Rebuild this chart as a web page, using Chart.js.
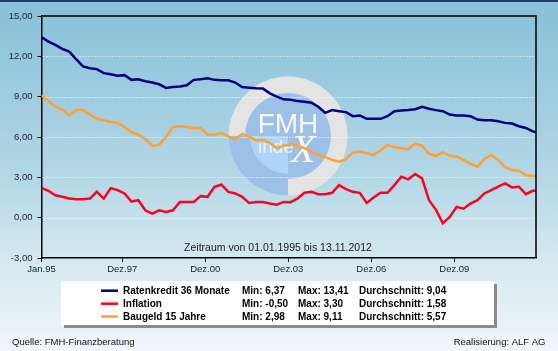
<!DOCTYPE html>
<html><head><meta charset="utf-8">
<script src="https://cdn.jsdelivr.net/npm/chart.js@4.4.0/dist/chart.umd.min.js"></script>
<style>html,body{margin:0;padding:0;overflow:hidden;background:#fff}#wrap{width:558px;height:351px;position:relative}</style>
</head><body><div id="wrap"><canvas id="c" width="558" height="351"></canvas></div>
<script>
// month index since Jan 1995
const months = [0,3,6,9,12,15,18,21,24,27,30,33,36,39,42,45,48,51,54,
  57,60,63,66,69,72,75,78,81,84,87,90,93,96,99,102,105,108,
  111,114,117,120,123,126,129,132,135,138,141,144,147,150,153,156,159,162,
  165,168,171,174,177,180,183,186,189,192,195,198,201,204,207,210,213,214.4];
const ratenkredit = [13.43,13.1,12.85,12.55,12.35,11.8,11.25,11.12,11.05,10.75,10.67,10.55,10.6,10.25,10.3,10.15,10.05,9.92,9.65,
  9.72,9.75,9.85,10.25,10.3,10.37,10.25,10.22,10.22,10.05,9.72,9.67,9.62,9.6,9.25,9.0,8.8,8.77,
  8.67,8.62,8.55,8.25,7.8,8.0,7.92,7.85,7.55,7.6,7.35,7.35,7.35,7.55,7.92,7.97,8.0,8.07,
  8.25,8.1,8.0,7.92,7.67,7.6,7.6,7.55,7.3,7.25,7.25,7.17,7.05,7.0,6.8,6.67,6.42,6.37];
const inflation = [2.22,2.0,1.67,1.55,1.42,1.37,1.37,1.42,1.92,1.42,2.2,2.05,1.8,1.2,1.3,0.55,0.3,0.55,0.42,
  0.55,1.17,1.17,1.17,1.6,1.55,2.3,2.45,1.92,1.8,1.55,1.1,1.17,1.17,1.05,0.97,1.17,1.15,
  1.42,1.85,1.92,1.75,1.75,1.85,2.42,2.12,1.92,1.85,1.1,1.5,1.85,1.85,2.42,3.05,2.85,3.25,
  2.92,1.3,0.6,-0.42,0.05,0.8,0.67,1.05,1.3,1.8,2.05,2.3,2.55,2.25,2.3,1.75,2.0,2.0];
const baugeld = [9.1,8.67,8.25,8.05,7.6,8.0,8.0,7.67,7.35,7.25,7.12,7.05,6.75,6.35,6.17,5.85,5.35,5.42,6.0,
  6.75,6.8,6.75,6.67,6.67,6.17,6.17,6.3,6.05,5.85,6.22,6.05,5.75,5.8,5.55,5.17,5.35,5.5,
  5.35,5.17,4.92,4.67,4.5,4.3,4.17,4.35,4.85,4.92,4.8,4.67,5.0,5.42,5.25,5.17,5.1,5.5,
  5.35,4.75,4.6,4.85,4.6,4.55,4.3,4.0,3.8,4.35,4.67,4.3,3.75,3.55,3.5,3.17,3.1,3.1];
const tickMonths = [0,35,71,107,143,179];
const tickLabels = ['Jan.95','Dez.97','Dez.00','Dez.03','Dez.06','Dez.09'];
const seriesNames = ['Ratenkredit 36 Monate','Inflation','Baugeld 15 Jahre'];
const seriesColors = ['#000080','#ff0020','#ffa030'];
const statMin = [6.37,-0.50,2.98];
const statMax = [13.41,3.30,9.11];
const statAvg = [9.04,1.58,5.57];
const fmt = v => v.toFixed(2).replace('.',',');
const series = [ratenkredit, inflation, baugeld];

const FONT = '"Liberation Sans", Arial, sans-serif';

const deco = {
  id: 'deco',
  beforeDraw(chart) {
    const ctx = chart.ctx, W = chart.width, H = chart.height;
    ctx.save();
    const g = ctx.createLinearGradient(0, 0, 0, H);
    g.addColorStop(0, '#86c0d8');
    g.addColorStop(0.5, '#b3d7e6');
    g.addColorStop(0.75, '#d6e9f1');
    g.addColorStop(1, '#f0f7fa');
    ctx.fillStyle = g;
    ctx.fillRect(0, 0, W, H);
    ctx.fillStyle = '#23406d';
    ctx.fillRect(0, 0, W, 2);
    ctx.restore();
  },
  beforeDatasetsDraw(chart) {
    const ctx = chart.ctx, a = chart.chartArea;
    const cx = 288, cy = 136, R = 59.5, r = 43;
    ctx.save();
    // ring
    ctx.fillStyle = '#e4e4e4';
    ctx.beginPath(); ctx.arc(cx, cy, R, 0, Math.PI * 2); ctx.fill();
    ctx.fillStyle = '#9dc1e6';
    ctx.beginPath(); ctx.moveTo(cx, cy); ctx.arc(cx, cy, R, Math.PI / 2, Math.PI); ctx.closePath(); ctx.fill();
    // inner disc
    ctx.beginPath(); ctx.arc(cx, cy, r, 0, Math.PI * 2); ctx.fill();
    ctx.fillStyle = '#acd5f8';
    ctx.beginPath(); ctx.moveTo(cx, cy); ctx.arc(cx, cy, 38, Math.PI / 2, Math.PI); ctx.closePath(); ctx.fill();
    // text
    ctx.fillStyle = '#f6f8fb';
    ctx.font = '28px ' + FONT;
    ctx.textAlign = 'center'; ctx.textBaseline = 'alphabetic';
    ctx.fillText('FMH', cx, 133);
    ctx.globalAlpha = 0.85;
    ctx.textAlign = 'left';
    ctx.font = '19px ' + FONT;
    ctx.fillText('inde', 258, 153);
    ctx.globalAlpha = 1;
    ctx.font = 'italic 40px "Liberation Serif", "DejaVu Serif", serif';
    ctx.fillText('X', 291, 162);
    // grid lines
    const y = chart.scales.y;
    ctx.strokeStyle = '#ffffff';
    ctx.lineWidth = 1;
    ctx.setLineDash([1, 2]);
    [12, 9, 6, 3, 0].forEach(v => {
      const py = Math.round(y.getPixelForValue(v)) + 0.5;
      ctx.beginPath(); ctx.moveTo(a.left + 2, py); ctx.lineTo(a.right - 2, py); ctx.stroke();
    });
    ctx.restore();
  },
  afterDraw(chart) {
    const ctx = chart.ctx, a = chart.chartArea;
    ctx.save();
    ctx.strokeStyle = '#000';
    ctx.lineWidth = 1.5;
    ctx.beginPath();
    ctx.moveTo(a.left, a.top); ctx.lineTo(a.right, a.top); ctx.lineTo(a.right, a.bottom);
    ctx.stroke();
    // title
    ctx.fillStyle = '#1a1a1a';
    ctx.font = '10.5px ' + FONT;
    ctx.textAlign = 'center'; ctx.textBaseline = 'middle';
    ctx.fillText('Zeitraum von 01.01.1995 bis 13.11.2012', 278, 248);
    // legend box
    ctx.fillStyle = '#8a8a8a';
    ctx.fillRect(64, 284, 433, 44);
    ctx.fillStyle = '#ffffff';
    ctx.fillRect(61, 281, 433, 44);
    const rows = [290.7, 303.7, 316.5];
    ctx.textAlign = 'left';
    ctx.font = 'bold 10px ' + FONT;
    seriesNames.forEach((n, i) => {
      const yy = rows[i];
      ctx.strokeStyle = seriesColors[i];
      ctx.lineWidth = 2.5;
      ctx.beginPath(); ctx.moveTo(101, yy); ctx.lineTo(118, yy); ctx.stroke();
      ctx.fillStyle = '#000';
      ctx.fillText(n, 123, yy + 0.5);
      ctx.fillText('Min: ' + fmt(statMin[i]), 242, yy + 0.5);
      ctx.fillText('Max: ' + fmt(statMax[i]), 298, yy + 0.5);
      ctx.fillText('Durchschnitt: ' + fmt(statAvg[i]), 359, yy + 0.5);
    });
    // footer
    ctx.font = '9.5px ' + FONT;
    ctx.fillStyle = '#111';
    ctx.fillText('Quelle: FMH-Finanzberatung', 12, 342);
    ctx.textAlign = 'right';
    ctx.fillText('Realisierung: ALF AG', 545.5, 342);
    ctx.restore();
  }
};

new Chart(document.getElementById('c'), {
  type: 'line',
  data: {
    datasets: series.map((s, i) => ({
      label: seriesNames[i],
      data: months.map((m, j) => ({ x: m, y: s[j] })),
      borderColor: seriesColors[i],
      borderWidth: 2.5,
      pointRadius: 0,
      fill: false,
      tension: 0
    }))
  },
  options: {
    responsive: false,
    devicePixelRatio: 1,
    animation: false,
    layout: { padding: { left: 0, top: 16, right: 22, bottom: 0 } },
    plugins: { legend: { display: false }, tooltip: { enabled: false }, title: { display: false } },
    scales: {
      x: {
        type: 'linear', min: 0, max: 214.4,
        afterBuildTicks: s => { s.ticks = tickMonths.map(v => ({ value: v })); },
        afterFit: s => { s.height = 93; },
        ticks: {
          autoSkip: false, maxRotation: 0, padding: 2,
          color: '#222244', font: { family: FONT, size: 9.5 },
          callback: v => tickLabels[tickMonths.indexOf(v)]
        },
        grid: { drawOnChartArea: false, drawTicks: true, tickLength: 4, tickColor: '#000', tickWidth: 1 },
        border: { color: '#000', width: 1.5 }
      },
      y: {
        min: -3, max: 15,
        afterFit: s => { s.width = 41.5; },
        ticks: {
          stepSize: 3, padding: 5,
          color: '#222244', font: { family: FONT, size: 9.5 },
          callback: v => fmt(v)
        },
        grid: { drawOnChartArea: false, drawTicks: true, tickLength: 4, tickColor: '#000', tickWidth: 1 },
        border: { color: '#000', width: 1.5 }
      }
    }
  },
  plugins: [deco]
});
</script>
</body></html>
